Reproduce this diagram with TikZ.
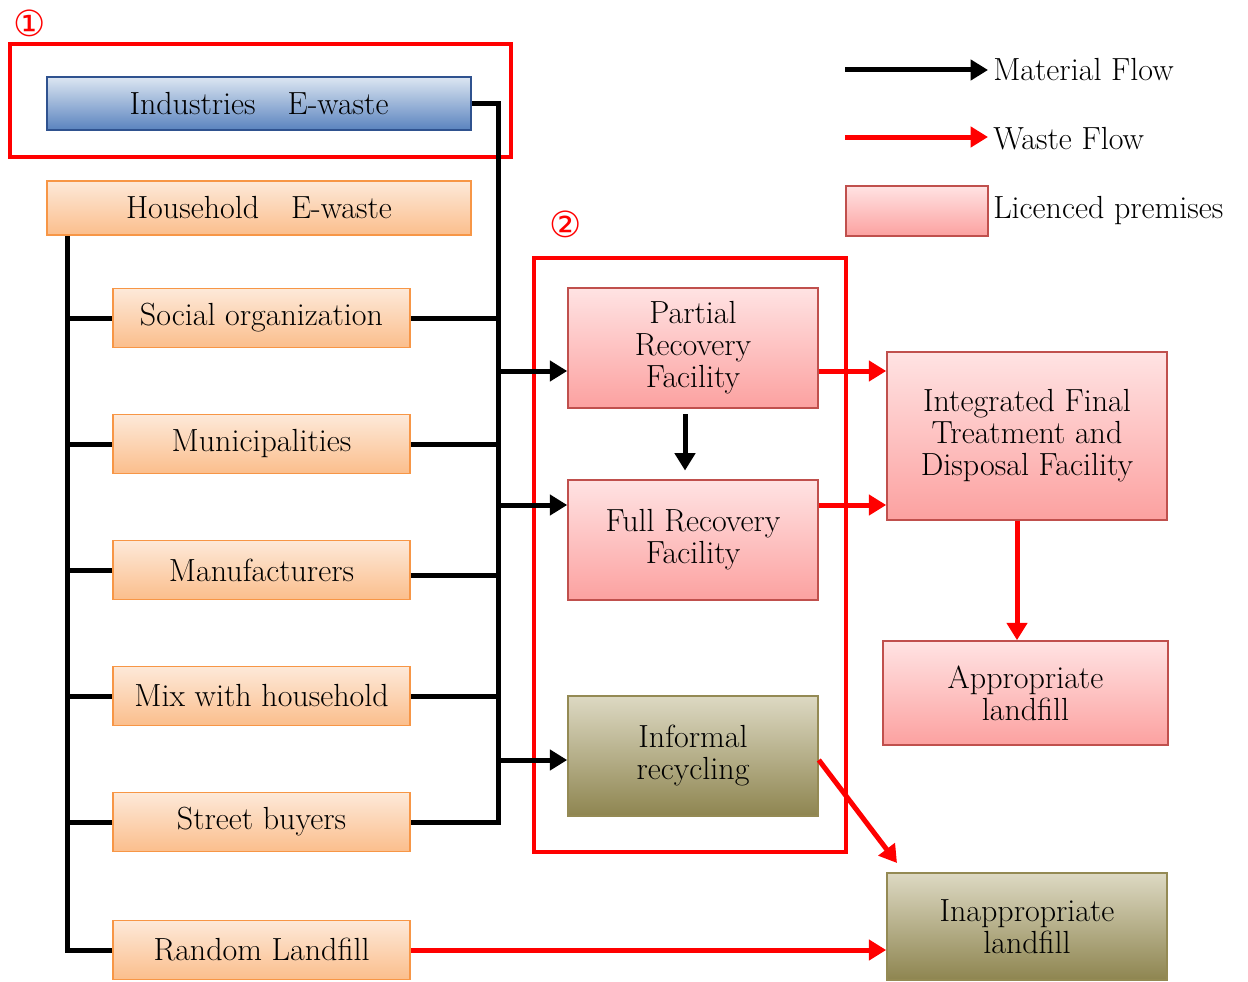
\documentclass[tikz,border=0pt]{standalone}
\usepackage{fontspec}
\newfontfamily\symfont{DejaVu Sans}
\usetikzlibrary{arrows.meta}
\definecolor{orfill1}{HTML}{FDE9D9}
\definecolor{orfill2}{HTML}{FBBE8C}
\definecolor{ordraw}{HTML}{F79646}
\definecolor{blfill1}{HTML}{DCE6F2}
\definecolor{blfill2}{HTML}{5A83BE}
\definecolor{bldraw}{HTML}{2F528F}
\definecolor{pkfill1}{HTML}{FFE3E3}
\definecolor{pkfill2}{HTML}{FCA1A0}
\definecolor{pkdraw}{HTML}{C0504D}
\definecolor{olfill1}{HTML}{DDD9C3}
\definecolor{olfill2}{HTML}{8E8550}
\definecolor{oldraw}{HTML}{948A54}
\tikzset{
  box/.style={inner sep=0pt, align=center, font=\fontsize{24}{24}\selectfont, line width=1.2pt},
  orbox/.style={box, draw=ordraw, top color=orfill1, bottom color=orfill2, minimum width=222.75pt, minimum height=44.25pt},
  blbox/.style={box, draw=bldraw, top color=blfill1, bottom color=blfill2},
  pkbox/.style={box, draw=pkdraw, top color=pkfill1, bottom color=pkfill2},
  olbox/.style={box, draw=oldraw, top color=olfill1, bottom color=olfill2},
  bus/.style={line width=3.75pt, black},
  marrow/.style={line width=3.75pt, black, -{Triangle[length=13pt,width=15pt]}},
  warrow/.style={line width=3.75pt, red, -{Triangle[length=13pt,width=15pt]}},
  group/.style={draw=red, line width=3pt},
  num/.style={text=red, font=\symfont\fontsize{27}{28}\selectfont, inner sep=0pt},
  legtext/.style={anchor=west, inner sep=0pt, font=\fontsize{24}{24}\selectfont},
}
\begin{document}
\begin{tikzpicture}[x=0.75pt, y=-0.75pt]
\useasboundingbox (0,0) rectangle (1248,981);

% group frames
\draw[group] (10,44) rectangle (511,157);
\node[num] (n1) at (30,23) {①};
\draw[group] (534,258) rectangle (846,852);
\node[num] (n2) at (566,224) {②};

% sources
\node[blbox, minimum width=318pt, minimum height=39.75pt] (ind) at (259,103.5) {Industries\quad E-waste};
\node[orbox, minimum width=318pt, minimum height=40.5pt] (hh) at (259,208) {Household\quad E-waste};
\node[orbox] (soc) at (261.5,318) {Social organization};
\node[orbox] (mun) at (261.5,444) {Municipalities};
\node[orbox] (man) at (261.5,570) {Manufacturers};
\node[orbox] (mix) at (261.5,696) {Mix with household};
\node[orbox] (sb)  at (261.5,822) {Street buyers};
\node[orbox] (rl)  at (261.5,950) {Random Landfill};

% facilities
\node[pkbox, minimum width=187.5pt, minimum height=90pt] (par) at (693,348) {Partial\\Recovery\\Facility};
\node[pkbox, minimum width=187.5pt, minimum height=90pt] (full) at (693,540) {Full Recovery\\Facility};
\node[olbox, minimum width=187.5pt, minimum height=90pt] (inf) at (693,756) {Informal\\recycling};
\node[pkbox, minimum width=210pt, minimum height=126pt] (integ) at (1027,436) {Integrated Final\\Treatment and\\Disposal Facility};
\node[pkbox, minimum width=213.75pt, minimum height=78pt] (appr) at (1025.5,693) {Appropriate\\landfill};
\node[olbox, minimum width=210pt, minimum height=80.25pt] (inap) at (1027,926.5) {Inappropriate\\landfill};

% buses
\coordinate (lbus) at (67,950);
\coordinate (rbus) at (498,822);
\draw[bus] (hh.south -| lbus) -- (lbus) -- (rl.west);
\foreach \b in {soc,mun,man,mix,sb} \draw[bus] (\b.west) -- (\b.west -| lbus);
\draw[bus] (ind.east) -| (rbus) -- (sb.east);
\foreach \b in {soc,mun,mix} \draw[bus] (\b.east) -- (\b.east -| rbus);
\coordinate (manr) at (498,575);
\draw[bus] (man.east |- manr) -- (manr);

% material flows
\coordinate (pin) at (498,371);
\coordinate (fin) at (498,505);
\coordinate (iin) at (498,760);
\draw[marrow] (pin) -- (pin -| par.west);
\draw[marrow] (fin) -- (fin -| full.west);
\draw[marrow] (iin) -- (iin -| inf.west);
\coordinate (pfx) at (685,0);
\draw[marrow, shorten <=4pt, shorten >=6.5pt] (par.south -| pfx) -- (full.north -| pfx);

% waste flows
\draw[warrow] (pin -| par.east) -- (pin -| integ.west);
\draw[warrow] (fin -| full.east) -- (fin -| integ.west);
\coordinate (iax) at (1017,0);
\draw[warrow] (integ.south -| iax) -- (appr.north -| iax);
\coordinate (diagend) at (897,863);
\draw[warrow] (iin -| inf.east) -- (diagend);
\draw[warrow] (rl.east) -- (rl.east -| inap.west);

% legend
\coordinate (l1a) at (845,70);
\coordinate (l1b) at (988,70);
\coordinate (l2a) at (845,137);
\coordinate (l2b) at (988,137);
\draw[marrow] (l1a) -- (l1b);
\draw[warrow] (l2a) -- (l2b);
\node[pkbox, minimum width=106.5pt, minimum height=37.5pt] (lbox) at (917,211) {};
\node[legtext] (t1) at (993,70) {Material Flow};
\node[legtext] (t2) at (993,139) {Waste Flow};
\node[legtext] (t3) at (993,211) {Licenced premises};
\end{tikzpicture}
\end{document}
